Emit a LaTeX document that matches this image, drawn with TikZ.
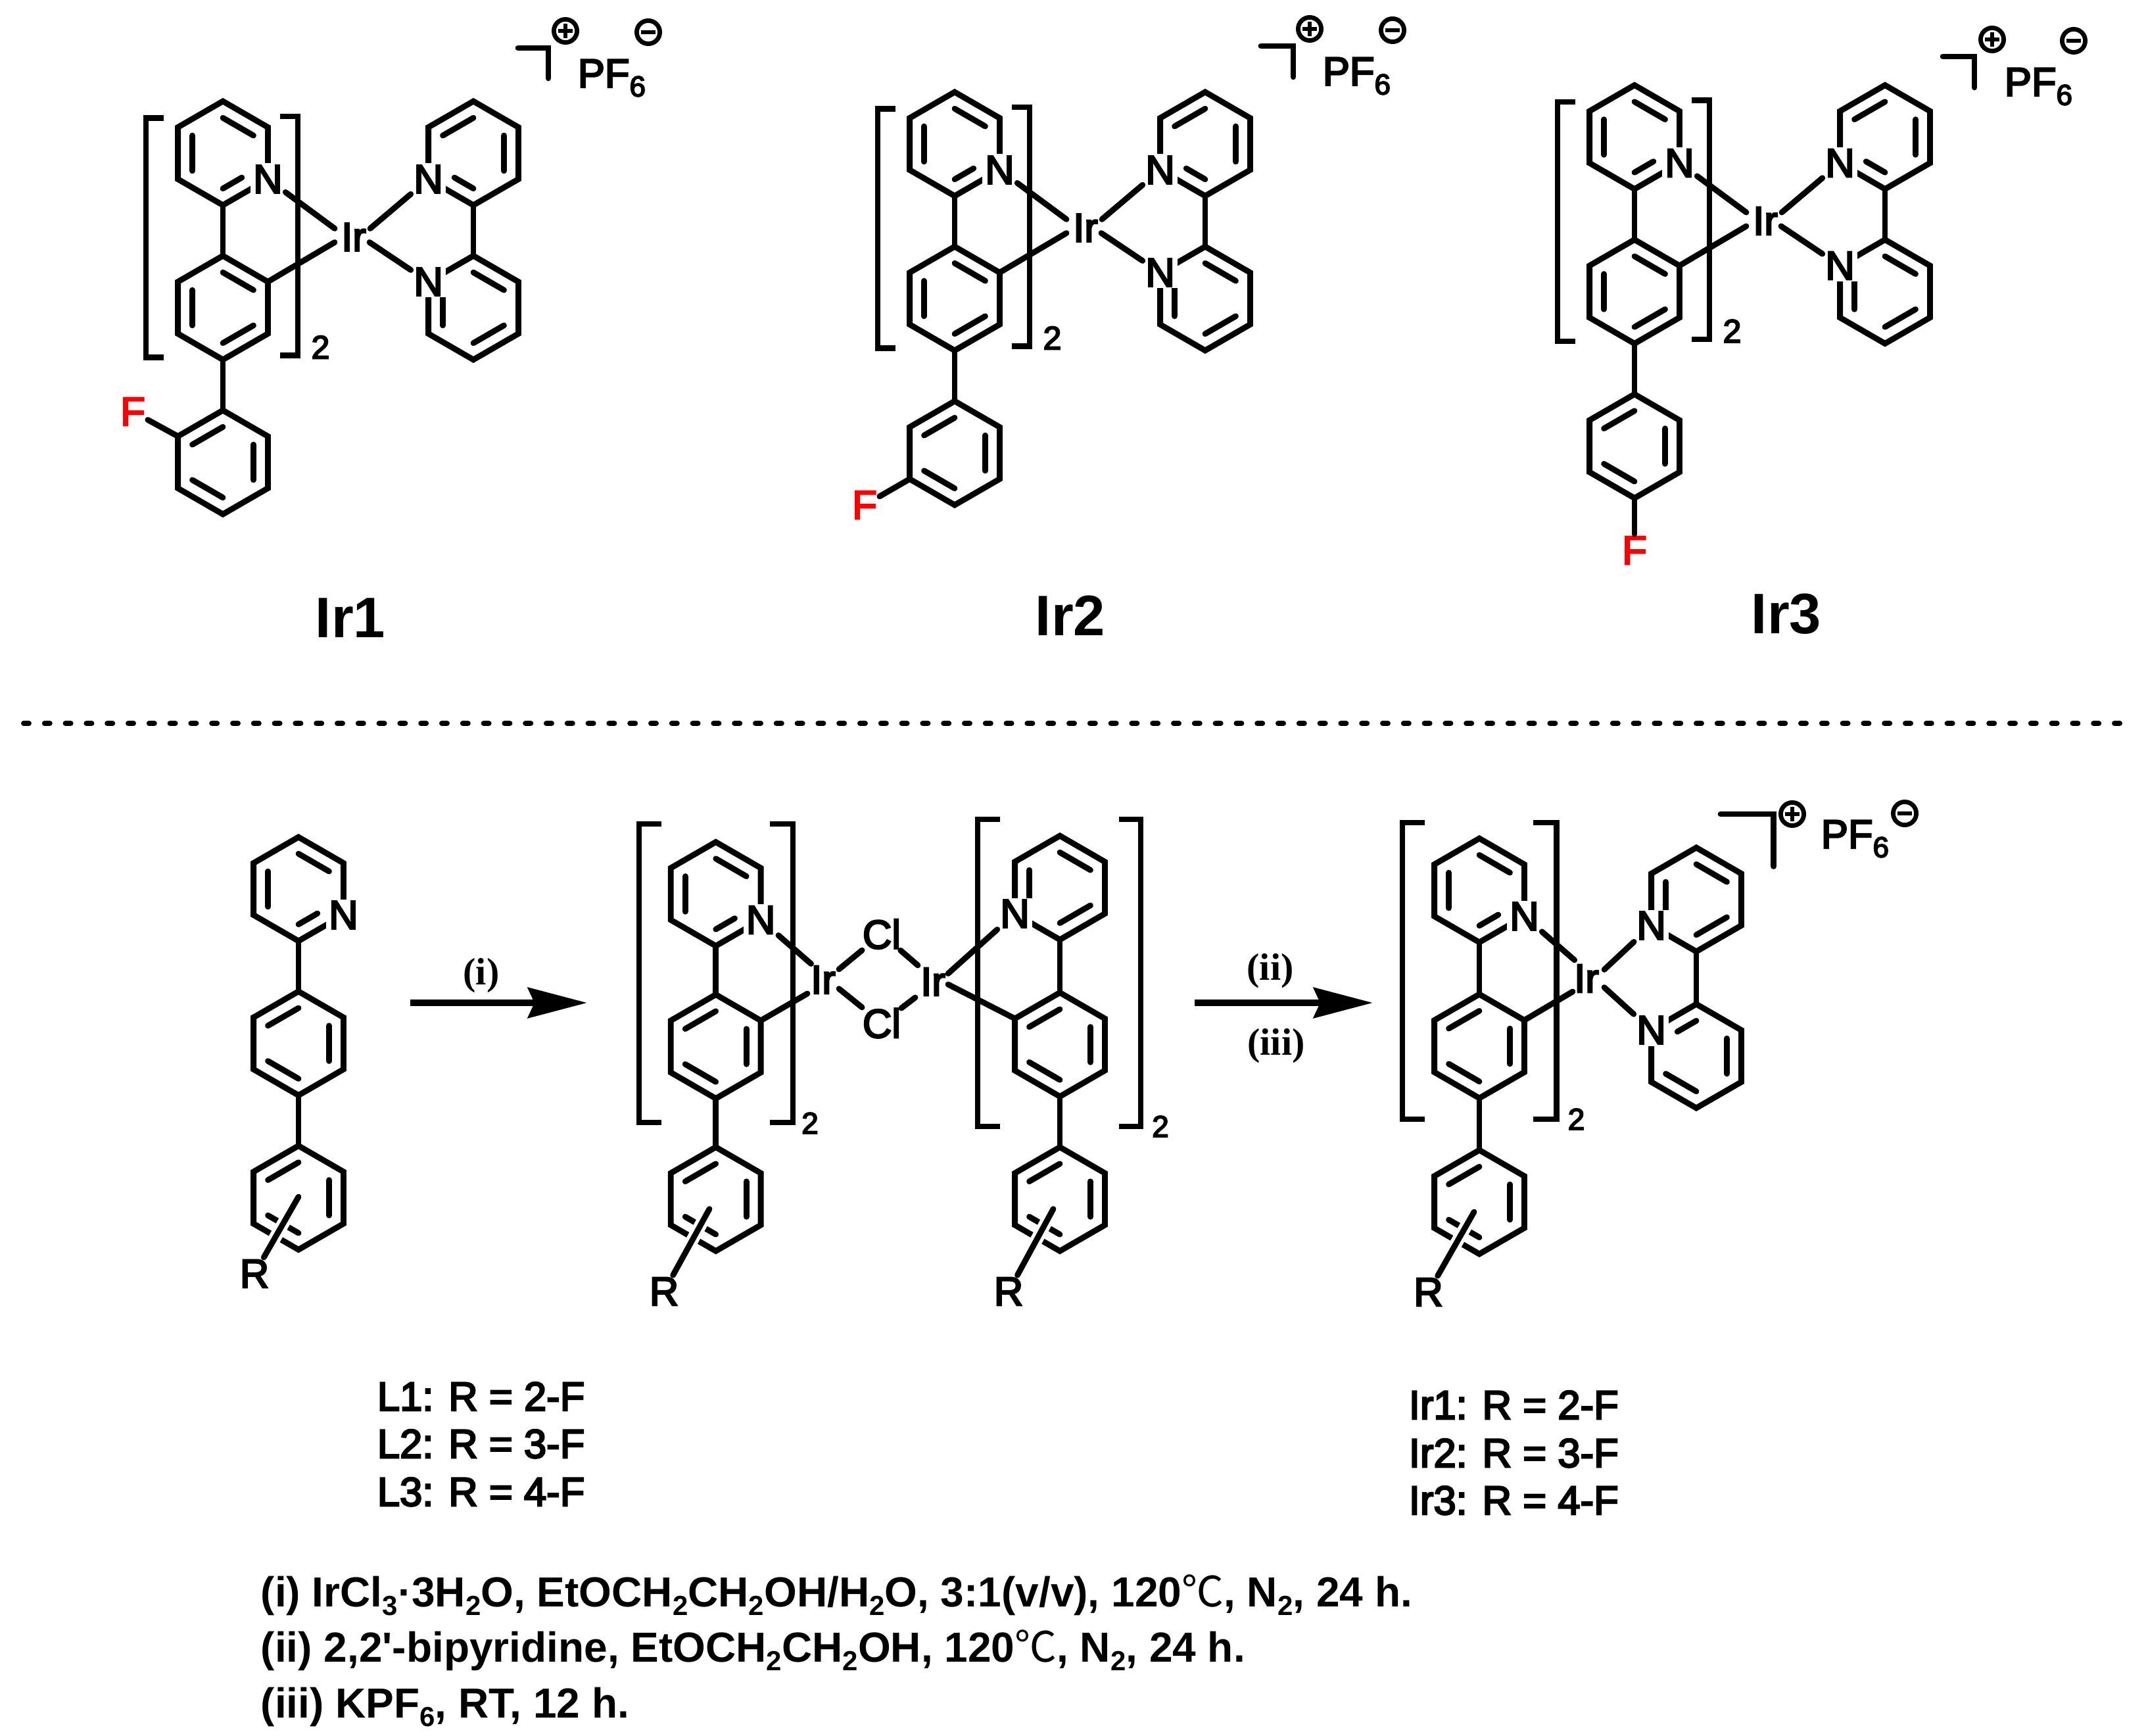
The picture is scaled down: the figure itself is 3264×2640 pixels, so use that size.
\documentclass[tikz,border=0pt]{standalone}
\usepackage{fontspec}
\usetikzlibrary{calc,arrows.meta}
\newfontfamily\lab{Liberation Sans}[RawFeature={embolden=4}]
\newfontfamily\labb{Liberation Sans Bold}
\newfontfamily\arrf{Liberation Serif Bold}
\newfontfamily\cjkf{Noto Sans CJK SC}
\newcommand\labf{\lab\fontsize{15.4}{18}\selectfont}
\newcommand\sbs[1]{\raisebox{-3.4pt}{\fontsize{11}{11}\selectfont #1}}
\newcommand\sbb[1]{\raisebox{-3.4pt}{\fontsize{10.5}{10.5}\selectfont #1}}
\definecolor{fred}{RGB}{255,0,0}
\tikzset{
  x=0.25pt,y=-0.25pt,
  bond/.style={line width=2.2pt,line cap=round,line join=miter,black},
  brk/.style={line width=2.2pt,line cap=butt,line join=miter,black},
  halo/.style={line width=4.8pt,line cap=butt,white},
  atom/.style={font=\labf,inner sep=0pt,minimum width=13pt,minimum height=12pt,fill=white,text=black},
  metal/.style={font=\labf,inner sep=0pt,text=black},
  clatom/.style={atom,minimum width=14pt},
  fatom/.style={atom,minimum width=11pt,text=fred},
  txt/.style={font=\labf,inner sep=0pt,anchor=base west,text=black},
  cond/.style={font=\labb\fontsize{16}{18}\selectfont,inner sep=0pt,anchor=base west,text=black},
  sub2/.style={font=\lab\fontsize{12.5}{14}\selectfont,inner sep=0pt,text=black},
  chg/.style={circle,draw=black,line width=1.7pt,minimum size=8.8pt,inner sep=0pt},
  chgbar/.style={line width=1.7pt,line cap=butt,black},
  arrowline/.style={line width=2.5pt,-{Stealth[length=22.5pt,width=11.5pt,inset=2.5pt]},black},
  arrlab/.style={font=\arrf\fontsize{14.5}{16}\selectfont,inner sep=0pt,anchor=base,text=black},
  namelab/.style={font=\labb\fontsize{21.7}{24}\selectfont,inner sep=0pt,anchor=base,text=black},
}
% ring: id cx cy; vertices 1 top, clockwise
\newcommand\ringat[3]{%
  \coordinate (#1-c) at ({#2},{#3});
  \coordinate (#1-1) at ({#2},{#3-79});
  \coordinate (#1-2) at ({#2+68.4},{#3-39.5});
  \coordinate (#1-3) at ({#2+68.4},{#3+39.5});
  \coordinate (#1-4) at ({#2},{#3+79});
  \coordinate (#1-5) at ({#2-68.4},{#3+39.5});
  \coordinate (#1-6) at ({#2-68.4},{#3-39.5});
  \foreach \k in {1,...,6}{\coordinate (#1-i\k) at ($(#1-\k)!0.32!(#1-c)$);}
  \draw[bond] (#1-1)--(#1-2)--(#1-3)--(#1-4)--(#1-5)--(#1-6)--cycle;
}
\newcommand\dbl[3]{\draw[bond] (#1-i#2) -- (#1-i#3);}
\newcommand\dbs[3]{\draw[bond] (#1-i#2) -- ($(#1-i#2)!0.62!(#1-i#3)$);}
\newcommand\lnk[2]{\draw[bond] (#1) -- (#2);}
\newcommand\brkt[4]{\draw[brk] (#4,#2) -- (#1,#2) -- (#1,#3) -- (#4,#3);}
\newcommand\chgb[4]{\draw[bond] (#1,#3) -- (#2,#3) -- (#2,#4);}
\newcommand\plusc[3]{\node[chg] (#1) at (#2,#3) {};
  \draw[chgbar] ($(#1)+(-11,0)$) -- ($(#1)+(11,0)$);
  \draw[chgbar] ($(#1)+(0,-11)$) -- ($(#1)+(0,11)$);}
\newcommand\minusc[3]{\node[chg] (#1) at (#2,#3) {};
  \draw[chgbar] ($(#1)+(-11,0)$) -- ($(#1)+(11,0)$);}
\newcommand\irends[9]{%
  \coordinate (#1-a) at ($(#1)+(#2,#3)$);
  \coordinate (#1-b) at ($(#1)+(#4,#5)$);
  \coordinate (#1-c) at ($(#1)+(#6,#7)$);
  \coordinate (#1-d) at ($(#1)+(#8,#9)$);}
\newcommand\rsub[5]{%
  \node[atom,fill=none] (#1R) at (#4,#5) {R};
  \coordinate (#1s) at (#2,#3);
  \draw[halo] (#1s) -- (#1R);
  \draw[bond] (#1s) -- (#1R);}
% phenyl-phenyl arm: rings A (N at 3), B, C
\newcommand\arm[4]{% id x yA dy-chain
  \ringat{#1A}{#2}{#3}
  \ringat{#1B}{#2}{#3+#4}
  \ringat{#1C}{#2}{#3+#4+#4}
  \dbl{#1A}{1}{2}\dbl{#1A}{5}{6}\dbs{#1A}{4}{3}
  \lnk{#1A-4}{#1B-1}\lnk{#1B-4}{#1C-1}
  \dbl{#1C}{6}{1}\dbl{#1C}{2}{3}\dbl{#1C}{4}{5}
}
% upper complexes
\newcommand\topmol[3]{%
  \arm{#1}{339+#2}{233+#3}{235}
  \dbl{#1B}{1}{2}\dbl{#1B}{5}{6}\dbl{#1B}{3}{4}
  \ringat{#1D}{720+#2}{233+#3}
  \ringat{#1E}{720+#2}{468+#3}
  \dbl{#1D}{6}{1}\dbl{#1D}{2}{3}\dbs{#1D}{4}{5}
  \dbl{#1E}{1}{2}\dbl{#1E}{5}{6}\dbl{#1E}{3}{4}
  \lnk{#1D-4}{#1E-1}
  \node[atom] (#1Na) at (#1A-3) {N};
  \node[atom] (#1Nd) at (#1D-5) {N};
  \node[atom] (#1Ne) at (#1E-6) {N};
  \node[metal] (#1Ir) at (538+#2,360.5+#3) {Ir};
  \irends{#1Ir}{-29}{-13}{-29}{8}{25}{-13}{24}{8}
  \lnk{#1Na}{#1Ir-a}\lnk{#1B-2}{#1Ir-b}\lnk{#1Nd}{#1Ir-c}\lnk{#1Ne}{#1Ir-d}
  \brkt{222+#2}{179.5+#3}{543.5+#3}{249+#2}
  \brkt{453+#2}{177+#3}{540.5+#3}{426+#2}
  \node[sub2] (#1two) at (487.5+#2,528+#3) {2};
}
\begin{document}
\begin{tikzpicture}
\useasboundingbox (0,0) rectangle (3264,2640);
% ---- top row
\topmol{p}{0}{0}
\topmol{q}{1113}{-14}
\topmol{r}{2147}{-24.5}
\node[fatom] (pF) at (202,626) {F};
\lnk{pC-6}{pF}
\node[fatom] (qF) at (1315,768) {F};
\lnk{qC-5}{qF}
\node[fatom] (rF) at (2486,837) {F};
\lnk{rC-4}{rF}
% charges
\chgb{788}{834}{73}{119}
\plusc{pP}{860}{47}\minusc{pM}{986}{49}
\node[txt] (pPF) at (878,133) {PF\sbs{6}};
\chgb{1918}{1967}{70}{117}
\plusc{qP}{1992}{44}\minusc{qM}{2118}{46}
\node[txt] (qPF) at (2011,130) {PF\sbs{6}};
\chgb{2955}{3003}{86}{133}
\plusc{rP}{3030}{60}\minusc{rM}{3154}{62}
\node[txt] (rPF) at (3048,146) {PF\sbs{6}};
\node[namelab] (n1) at (533,970) {Ir1};
\node[namelab] (n2) at (1628,967) {Ir2};
\node[namelab] (n3) at (2717,964) {Ir3};
% dashed separator
\coordinate (da) at (36,1100);
\coordinate (db) at (3246,1100);
\draw[line width=2pt,line cap=round,dash pattern=on 2pt off 5.95pt] (da) -- (db);
% ---- ligand
\arm{l}{454}{1352}{234.7}
\dbl{lB}{6}{1}\dbl{lB}{2}{3}\dbl{lB}{4}{5}
\node[atom] (lN) at (lA-3) {N};
\rsub{l}{454}{1820}{387}{1937}
% arrow 1
\coordinate (a1s) at (623.6,1525);
\coordinate (a1e) at (893,1525);
\draw[arrowline] (a1s) -- (a1e);
\node[arrlab] (a1t) at (732,1497) {(i)};
% ---- dimer left
\arm{m}{1088.7}{1359.5}{232}
\dbl{mB}{6}{1}\dbl{mB}{2}{3}\dbl{mB}{4}{5}
\node[atom] (mN) at (mA-3) {N};
\node[metal] (mIr) at (1252,1490) {Ir};
\rsub{m}{1079}{1838.5}{1010}{1964}
\brkt{972}{1253}{1707}{1005.6}
\brkt{1206}{1253}{1707}{1171}
\node[sub2,font=\lab\fontsize{11.5}{13}\selectfont] (m2) at (1232,1708) {2};
% ---- dimer right (mirror arm)
\ringat{nA}{1612}{1350}
\ringat{nB}{1612}{1588.5}
\ringat{nC}{1612}{1823.5}
\dbl{nA}{1}{2}\dbl{nA}{5}{6}\dbl{nA}{3}{4}
\dbl{nB}{6}{1}\dbl{nB}{2}{3}\dbl{nB}{4}{5}
\dbl{nC}{6}{1}\dbl{nC}{2}{3}\dbl{nC}{4}{5}
\lnk{nA-4}{nB-1}\lnk{nB-4}{nC-1}
\node[atom] (nN) at (nA-5) {N};
\node[metal] (nIr) at (1419,1493) {Ir};
\rsub{n}{1602}{1838.5}{1534}{1964}
\brkt{1487}{1246}{1713}{1521}
\brkt{1735}{1246}{1713}{1702}
\node[sub2,font=\lab\fontsize{11.5}{13}\selectfont] (n2b) at (1765,1713) {2};
% bridge
\node[clatom] (clt) at (1341,1420.5) {Cl};
\node[clatom] (clb) at (1341,1556) {Cl};
\irends{mIr}{-18.5}{-24.4}{-24}{21}{24}{-16}{24}{13.6}
\irends{nIr}{23}{-12.5}{23}{4}{-23}{-25}{-27}{24}
\lnk{mN}{mIr-a}\lnk{mB-2}{mIr-b}
\lnk{nN}{nIr-a}\lnk{nB-6}{nIr-b}
\lnk{clt}{mIr-c}\lnk{clb}{mIr-d}\lnk{clt}{nIr-c}\lnk{clb}{nIr-d}
% arrow 2
\coordinate (a2s) at (1817,1525);
\coordinate (a2e) at (2088,1525);
\draw[arrowline] (a2s) -- (a2e);
\node[arrlab] (a2t) at (1932,1490) {(ii)};
\node[arrlab] (a3t) at (1941,1604) {(iii)};
% ---- product
\arm{s}{2250}{1354}{237}
\dbl{sB}{6}{1}\dbl{sB}{2}{3}\dbl{sB}{4}{5}
\ringat{sD}{2580}{1368}
\ringat{sE}{2580}{1606}
\dbl{sD}{1}{2}\dbl{sD}{3}{4}\dbl{sD}{5}{6}
\dbs{sE}{1}{6}\dbl{sE}{2}{3}\dbl{sE}{4}{5}
\lnk{sD-4}{sE-1}
\node[atom] (sNa) at (sA-3) {N};
\node[atom] (sNd) at (sD-5) {N};
\node[atom] (sNe) at (sE-6) {N};
\node[metal] (sIr) at (2413,1488) {Ir};
\irends{sIr}{-18.3}{-28}{-21}{20}{27}{-13.5}{27}{13.6}
\lnk{sNa}{sIr-a}\lnk{sB-2}{sIr-b}\lnk{sNd}{sIr-c}\lnk{sNe}{sIr-d}
\rsub{s}{2242}{1843}{2172.5}{1965}
\brkt{2133}{1251}{1702}{2167}
\brkt{2367.5}{1251}{1702}{2332}
\node[sub2,font=\lab\fontsize{11.5}{13}\selectfont] (s2) at (2397.5,1702) {2};
\chgb{2617}{2697.6}{1238}{1317.5}
\plusc{sP}{2726}{1238}\minusc{sM}{2897}{1237}
\node[txt] (sPF) at (2769,1290) {PF\sbs{6}};
% ---- lists
\node[txt] (l1) at (573,2145) {L1: R = 2-F};
\node[txt] (l2) at (573,2217) {L2: R = 3-F};
\node[txt] (l3) at (573,2290) {L3: R = 4-F};
\node[txt] (i1) at (2142,2158) {Ir1: R = 2-F};
\node[txt] (i2) at (2142,2231) {Ir2: R = 3-F};
\node[txt] (i3) at (2142,2303) {Ir3: R = 4-F};
\node[cond] (c1) at (396,2443) {(i) IrCl\sbb{3}·3H\sbb{2}O, EtOCH\sbb{2}CH\sbb{2}OH/H\sbb{2}O, 3:1(v/v), 120{\cjkf ℃}, N\sbb{2}, 24 h.};
\node[cond] (c2) at (396,2527) {(ii) 2,2'-bipyridine, EtOCH\sbb{2}CH\sbb{2}OH, 120{\cjkf ℃}, N\sbb{2}, 24 h.};
\node[cond] (c3) at (396,2612) {(iii) KPF\sbb{6}, RT, 12 h.};
\end{tikzpicture}
\end{document}
